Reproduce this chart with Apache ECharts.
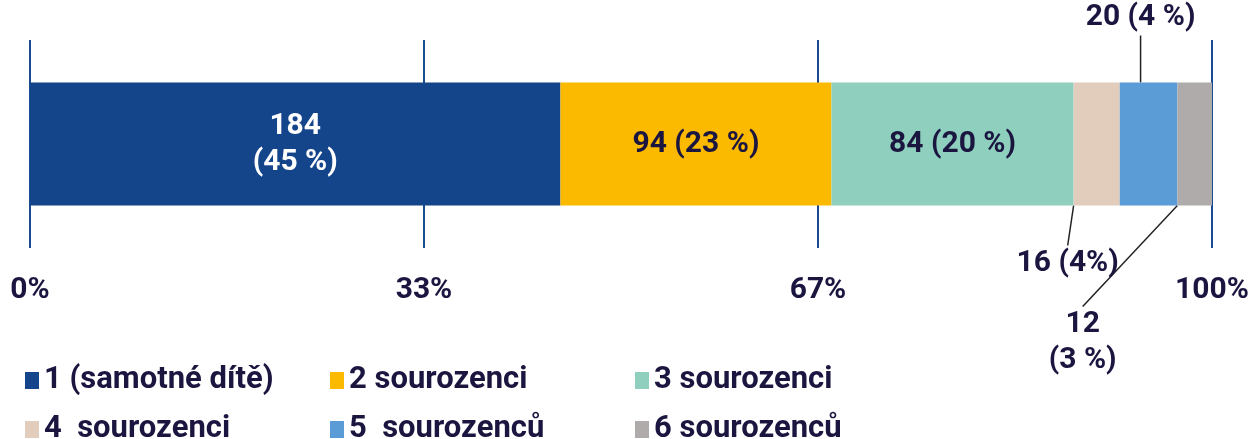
<!DOCTYPE html>
<html>
<head>
<meta charset="utf-8">
<script src="https://cdn.jsdelivr.net/npm/echarts@6/dist/echarts.min.js"></script>
<style>
html,body{margin:0;padding:0;background:#fff}
#main{width:1258px;height:439px}
</style>
</head>
<body>
<div id="main"></div>
<script>
var names = ['1 (samotné dítě)', '2 sourozenci', '3 sourozenci', '4  sourozenci', '5  sourozenců', '6 sourozenců']
var values = [184, 94, 84, 16, 20, 12]
var labels = ['184\n(45 %)', '94 (23 %)', '84 (20 %)', '16 (4%)', '20 (4 %)', '12\n(3 %)']
var ticks = ['0%', '33%', '67%', '100%']
var colors = ['#14448a', '#fbb900', '#8ecfbe', '#e2cdbd', '#5b9bd6', '#afabab']

var total = values.reduce(function (a, b) { return a + b }, 0)
var textColor = '#1b1640'
var font = 'Roboto'

// where the small-segment labels go (moved out of the bar)
var labelMove = [null, null, null, {position: 'bottom', dx: -29, dy: 35}, {position: 'top', dx: -8, dy: -42}, {position: 'bottom', dx: -112, dy: 96}]

var myChart = echarts.init(document.getElementById('main'))

var series = values.map(function (v, i) {
    var s = {
        name: names[i],
        type: 'bar',
        stack: 'all',
        barWidth: 123,
        data: [v],
        itemStyle: {color: colors[i]},
        label: {
            show: true,
            position: 'inside',
            formatter: labels[i],
            color: i === 0 ? '#ffffff' : textColor,
            fontFamily: font,
            fontWeight: 'bold',
            fontSize: 30,
            lineHeight: 36
        }
    }
    if (labelMove[i]) {
        s.label.position = labelMove[i].position
        s.labelLayout = {dx: labelMove[i].dx, dy: labelMove[i].dy}
        s.labelLine = {show: true, lineStyle: {color: '#222', width: 1.5}}
    }
    return s
})

option = {
    animation: false,
    color: colors,
    grid: {left: 30, right: 46, top: 40, height: 208},
    xAxis: {
        type: 'value',
        min: 0,
        max: total,
        interval: total / 3,
        axisLine: {show: false},
        axisTick: {show: false},
        splitLine: {show: true, lineStyle: {color: '#1a4a8f', width: 2}},
        axisLabel: {
            margin: 27,
            color: textColor,
            fontFamily: font,
            fontWeight: 'bold',
            fontSize: 30,
            formatter: function (val) {
                return ticks[Math.round(val / total * 3)]
            }
        }
    },
    yAxis: {
        type: 'category',
        data: [''],
        show: false
    },
    legend: {
        data: names,
        left: 20,
        top: 360,
        width: 930,
        itemWidth: 14,
        itemHeight: 17,
        itemGap: 18,
        itemTextGap: 6,
        icon: 'rect',
        textStyle: {
            color: textColor,
            fontFamily: font,
            fontWeight: 'bold',
            fontSize: 31,
            width: 268,
            lineHeight: 30
        }
    },
    series: series
}
myChart.setOption(option)
</script>
</body>
</html>
